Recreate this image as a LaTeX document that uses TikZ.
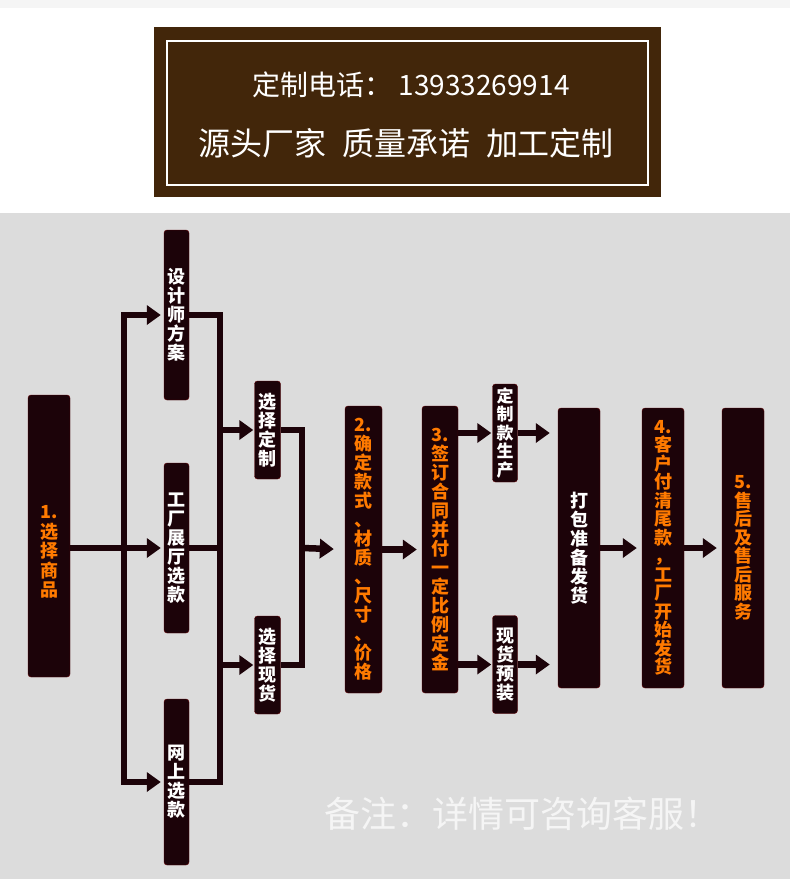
\documentclass[tikz,border=0pt]{standalone}
\usepackage{fontspec}
\newfontfamily\cjk{Noto Sans CJK SC}
\usetikzlibrary{arrows.meta,positioning}
\definecolor{boxfill}{HTML}{1C0309}
\definecolor{brownbg}{HTML}{42260A}
\definecolor{orangetxt}{HTML}{FF7A00}
\definecolor{panelgray}{HTML}{DCDCDC}

\begin{document}
\begin{tikzpicture}[x=1pt,y=-1pt,
    box/.style={fill=boxfill, draw=boxfill!70!red, rounded corners=3pt, inner sep=0pt, text=white, align=center, font=\cjk\bfseries\fontsize{18}{19}\selectfont},
    stagebox/.style={box, text=orangetxt},
    flow/.style={draw=boxfill, line width=6.5pt},
    flowarrow/.style={flow, -{Triangle[length=14pt,width=19pt]}, shorten >=5pt}
]
\useasboundingbox (0,0) rectangle (790,879);
\fill[white] (0,0) rectangle (790,213);
\fill[black!4] (0,0) rectangle (790,8);
\fill[panelgray] (0,213) rectangle (790,879);

% header
\fill[brownbg] (154,27) rectangle (661,197);
\draw[white, line width=1.5pt] (167,41) rectangle (648,185);
\node[text=white, font=\cjk\fontsize{28}{30}\selectfont] (phone) at (411,85) {定制电话：\ 13933269914};
\node[text=white, font=\cjk\fontsize{32}{34}\selectfont] (slogan) at (406,143) {源头厂家\hspace{0.5em}质量承诺\hspace{0.5em}加工定制};

% step 1 and the three ways to choose
\node[box, minimum width=42pt, minimum height=282pt] (select) at (49,536) {};
\node[text=orangetxt, align=center, font=\cjk\bfseries\fontsize{18}{19.5}\selectfont] (selecttxt) at (49,552) {1.\\选\\择\\商\\品};
\node[box, minimum width=25pt, minimum height=170pt] (design) at (176.5,315) {设\\计\\师\\方\\案};
\node[box, minimum width=25pt, minimum height=170pt] (factory) at (176.5,548) {工\\厂\\展\\厅\\选\\款};
\node[box, minimum width=25pt, minimum height=166pt] (online) at (176.5,782) {网\\上\\选\\款};
\node[box, minimum width=26pt, minimum height=98pt] (custom) at (267.5,430) {选\\择\\定\\制};
\node[box, minimum width=26pt, minimum height=98pt] (stock) at (267.5,665) {选\\择\\现\\货};

% steps 2 and 3
\node[stagebox, minimum width=37pt, minimum height=287pt] (confirm) at (363.5,549.5) {2.\\确\\定\\款\\式\\、\\材\\质\\、\\尺\\寸\\、\\价\\格};
\node[stagebox, minimum width=36pt, minimum height=287pt] (contract) at (440,549.5) {3.\\签\\订\\合\\同\\并\\付\\一\\定\\比\\例\\定\\金};
\node[box, minimum width=25pt, minimum height=98pt, font=\cjk\bfseries\fontsize{17}{18.5}\selectfont] (produce) at (505,433) {定\\制\\款\\生\\产};
\node[box, minimum width=25pt, minimum height=98pt] (prestock) at (505,664.5) {现\\货\\预\\装};

% steps 4 and 5
\node[box, minimum width=42pt, minimum height=280pt] (pack) at (579,548) {打\\包\\准\\备\\发\\货};
\node[stagebox, minimum width=42pt, minimum height=280pt, font=\cjk\bfseries\fontsize{18}{18.5}\selectfont] (pay) at (663,548) {4.\\客\\户\\付\\清\\尾\\款\\，\\工\\厂\\开\\始\\发\\货};
\node[stagebox, minimum width=42pt, minimum height=280pt, font=\cjk\bfseries\fontsize{18}{18.5}\selectfont] (service) at (743,548) {5.\\售\\后\\及\\售\\后\\服\\务};

% connectors
\coordinate (busA) at (124,548);
\coordinate (busB) at (220,548);
\coordinate (busC) at (302,548);
\draw[flow] (select.east |- factory.west) -- (busA);
\draw[flowarrow, shorten >=3pt] (busA |- online.west) -- (busA |- design.west) -- (design.west);
\draw[flowarrow, shorten >=3pt] (busA |- design.west) -- (busA |- online.west) -- (online.west);
\draw[flowarrow, shorten >=3pt] (busA) -- (factory.west);

\draw[flow] (design.east) -- (busB |- design.east) -- (busB |- online.east) -- (online.east);
\draw[flow] (factory.east) -- (busB);
\draw[flowarrow, shorten >=1pt] (busB |- custom.west) -- (custom.west);
\draw[flowarrow, shorten >=1pt] (busB |- stock.west) -- (stock.west);

\draw[flow] (custom.east) -- (busC |- custom.east) -- (busC |- stock.east) -- (stock.east);
\draw[flowarrow, shorten >=11pt] (busC) -- (confirm.west);
\draw[flowarrow] (confirm.east) -- (contract.west);
\draw[flowarrow, shorten >=1pt] (contract.east |- produce.west) -- (produce.west);
\draw[flowarrow, shorten >=1pt] (contract.east |- prestock.west) -- (prestock.west);
\draw[flowarrow, shorten >=8pt] (produce.east) -- (produce.east -| pack.west);
\draw[flowarrow, shorten >=8pt] (prestock.east) -- (prestock.east -| pack.west);
\draw[flowarrow] (pack.east) -- (pay.west);
\draw[flowarrow] (pay.east) -- (service.west);

% remark
\node[text=white!96!black, font=\cjk\fontsize{36}{38}\selectfont] (note) at (522,814) {备注：详情可咨询客服！};
\end{tikzpicture}
\end{document}
